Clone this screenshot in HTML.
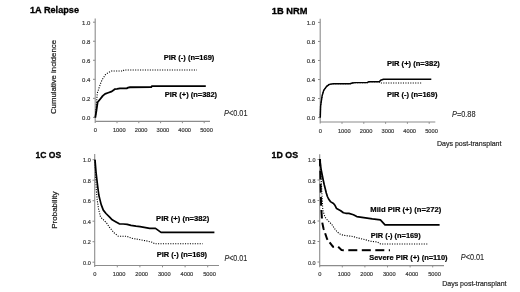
<!DOCTYPE html>
<html><head><meta charset="utf-8"><style>
html,body{margin:0;padding:0;background:#fff;}
body{width:520px;height:292px;overflow:hidden;}
svg{display:block;font-family:"Liberation Sans", sans-serif;filter:blur(0.3px);}
</style></head><body>
<svg width="520" height="292" viewBox="0 0 520 292" font-family='"Liberation Sans", sans-serif'>
<rect width="520" height="292" fill="#fff"/>
<text x="30" y="13.1" font-size="9.8" font-weight="bold" textLength="49" lengthAdjust="spacingAndGlyphs" fill="#000" stroke="#000" stroke-width="0.32" >1A Relapse</text>
<text x="271.8" y="13.7" font-size="9.8" font-weight="bold" textLength="35.6" lengthAdjust="spacingAndGlyphs" fill="#000" stroke="#000" stroke-width="0.32" >1B NRM</text>
<text x="35.6" y="157.8" font-size="9.5" font-weight="bold" textLength="25.6" lengthAdjust="spacingAndGlyphs" fill="#000" stroke="#000" stroke-width="0.32" >1C OS</text>
<text x="271.6" y="157.8" font-size="9.5" font-weight="bold" textLength="26.5" lengthAdjust="spacingAndGlyphs" fill="#000" stroke="#000" stroke-width="0.32" >1D OS</text>
<line x1="95.2" y1="18.6" x2="95.2" y2="123.0" stroke="#8c8c8c" stroke-width="1.1"/>
<line x1="95.2" y1="121.4" x2="210" y2="121.4" stroke="#8c8c8c" stroke-width="1.1"/>
<line x1="93.0" y1="22.20" x2="95.2" y2="22.20" stroke="#8c8c8c" stroke-width="1"/>
<text x="90.4" y="24.50" font-size="6.2" textLength="8.3" lengthAdjust="spacingAndGlyphs" text-anchor="end" fill="#3a3a3a" stroke="#3a3a3a" stroke-width="0.2" >1.0</text>
<line x1="93.0" y1="41.24" x2="95.2" y2="41.24" stroke="#8c8c8c" stroke-width="1"/>
<text x="90.4" y="43.54" font-size="6.2" textLength="8.3" lengthAdjust="spacingAndGlyphs" text-anchor="end" fill="#3a3a3a" stroke="#3a3a3a" stroke-width="0.2" >0.8</text>
<line x1="93.0" y1="60.28" x2="95.2" y2="60.28" stroke="#8c8c8c" stroke-width="1"/>
<text x="90.4" y="62.58" font-size="6.2" textLength="8.3" lengthAdjust="spacingAndGlyphs" text-anchor="end" fill="#3a3a3a" stroke="#3a3a3a" stroke-width="0.2" >0.6</text>
<line x1="93.0" y1="79.32" x2="95.2" y2="79.32" stroke="#8c8c8c" stroke-width="1"/>
<text x="90.4" y="81.62" font-size="6.2" textLength="8.3" lengthAdjust="spacingAndGlyphs" text-anchor="end" fill="#3a3a3a" stroke="#3a3a3a" stroke-width="0.2" >0.4</text>
<line x1="93.0" y1="98.36" x2="95.2" y2="98.36" stroke="#8c8c8c" stroke-width="1"/>
<text x="90.4" y="100.66" font-size="6.2" textLength="8.3" lengthAdjust="spacingAndGlyphs" text-anchor="end" fill="#3a3a3a" stroke="#3a3a3a" stroke-width="0.2" >0.2</text>
<line x1="93.0" y1="117.40" x2="95.2" y2="117.40" stroke="#8c8c8c" stroke-width="1"/>
<text x="90.4" y="119.70" font-size="6.2" textLength="8.3" lengthAdjust="spacingAndGlyphs" text-anchor="end" fill="#3a3a3a" stroke="#3a3a3a" stroke-width="0.2" >0.0</text>
<text x="95.40" y="131.8" font-size="6.2" textLength="3.2" lengthAdjust="spacingAndGlyphs" text-anchor="middle" fill="#3a3a3a" stroke="#3a3a3a" stroke-width="0.2" >0</text>
<line x1="117.00" y1="121.4" x2="117.00" y2="123.2" stroke="#8c8c8c" stroke-width="1"/>
<text x="119.30" y="131.8" font-size="6.2" textLength="12.7" lengthAdjust="spacingAndGlyphs" text-anchor="middle" fill="#3a3a3a" stroke="#3a3a3a" stroke-width="0.2" >1000</text>
<line x1="138.80" y1="121.4" x2="138.80" y2="123.2" stroke="#8c8c8c" stroke-width="1"/>
<text x="141.10" y="131.8" font-size="6.2" textLength="12.7" lengthAdjust="spacingAndGlyphs" text-anchor="middle" fill="#3a3a3a" stroke="#3a3a3a" stroke-width="0.2" >2000</text>
<line x1="160.60" y1="121.4" x2="160.60" y2="123.2" stroke="#8c8c8c" stroke-width="1"/>
<text x="162.90" y="131.8" font-size="6.2" textLength="12.7" lengthAdjust="spacingAndGlyphs" text-anchor="middle" fill="#3a3a3a" stroke="#3a3a3a" stroke-width="0.2" >3000</text>
<line x1="182.40" y1="121.4" x2="182.40" y2="123.2" stroke="#8c8c8c" stroke-width="1"/>
<text x="184.70" y="131.8" font-size="6.2" textLength="12.7" lengthAdjust="spacingAndGlyphs" text-anchor="middle" fill="#3a3a3a" stroke="#3a3a3a" stroke-width="0.2" >4000</text>
<line x1="204.20" y1="121.4" x2="204.20" y2="123.2" stroke="#8c8c8c" stroke-width="1"/>
<text x="206.50" y="131.8" font-size="6.2" textLength="12.7" lengthAdjust="spacingAndGlyphs" text-anchor="middle" fill="#3a3a3a" stroke="#3a3a3a" stroke-width="0.2" >5000</text>
<line x1="320.2" y1="18.8" x2="320.2" y2="123.6" stroke="#8c8c8c" stroke-width="1.1"/>
<line x1="320.2" y1="122.0" x2="435.3" y2="122.0" stroke="#8c8c8c" stroke-width="1.1"/>
<line x1="318.0" y1="22.40" x2="320.2" y2="22.40" stroke="#8c8c8c" stroke-width="1"/>
<text x="315.0" y="24.70" font-size="6.2" textLength="8.3" lengthAdjust="spacingAndGlyphs" text-anchor="end" fill="#3a3a3a" stroke="#3a3a3a" stroke-width="0.2" >1.0</text>
<line x1="318.0" y1="41.44" x2="320.2" y2="41.44" stroke="#8c8c8c" stroke-width="1"/>
<text x="315.0" y="43.74" font-size="6.2" textLength="8.3" lengthAdjust="spacingAndGlyphs" text-anchor="end" fill="#3a3a3a" stroke="#3a3a3a" stroke-width="0.2" >0.8</text>
<line x1="318.0" y1="60.48" x2="320.2" y2="60.48" stroke="#8c8c8c" stroke-width="1"/>
<text x="315.0" y="62.78" font-size="6.2" textLength="8.3" lengthAdjust="spacingAndGlyphs" text-anchor="end" fill="#3a3a3a" stroke="#3a3a3a" stroke-width="0.2" >0.6</text>
<line x1="318.0" y1="79.52" x2="320.2" y2="79.52" stroke="#8c8c8c" stroke-width="1"/>
<text x="315.0" y="81.82" font-size="6.2" textLength="8.3" lengthAdjust="spacingAndGlyphs" text-anchor="end" fill="#3a3a3a" stroke="#3a3a3a" stroke-width="0.2" >0.4</text>
<line x1="318.0" y1="98.56" x2="320.2" y2="98.56" stroke="#8c8c8c" stroke-width="1"/>
<text x="315.0" y="100.86" font-size="6.2" textLength="8.3" lengthAdjust="spacingAndGlyphs" text-anchor="end" fill="#3a3a3a" stroke="#3a3a3a" stroke-width="0.2" >0.2</text>
<line x1="318.0" y1="117.60" x2="320.2" y2="117.60" stroke="#8c8c8c" stroke-width="1"/>
<text x="315.0" y="119.90" font-size="6.2" textLength="8.3" lengthAdjust="spacingAndGlyphs" text-anchor="end" fill="#3a3a3a" stroke="#3a3a3a" stroke-width="0.2" >0.0</text>
<text x="320.40" y="132.9" font-size="6.2" textLength="3.2" lengthAdjust="spacingAndGlyphs" text-anchor="middle" fill="#3a3a3a" stroke="#3a3a3a" stroke-width="0.2" >0</text>
<line x1="342.00" y1="122.0" x2="342.00" y2="123.8" stroke="#8c8c8c" stroke-width="1"/>
<text x="344.30" y="132.9" font-size="6.2" textLength="12.7" lengthAdjust="spacingAndGlyphs" text-anchor="middle" fill="#3a3a3a" stroke="#3a3a3a" stroke-width="0.2" >1000</text>
<line x1="363.80" y1="122.0" x2="363.80" y2="123.8" stroke="#8c8c8c" stroke-width="1"/>
<text x="366.10" y="132.9" font-size="6.2" textLength="12.7" lengthAdjust="spacingAndGlyphs" text-anchor="middle" fill="#3a3a3a" stroke="#3a3a3a" stroke-width="0.2" >2000</text>
<line x1="385.60" y1="122.0" x2="385.60" y2="123.8" stroke="#8c8c8c" stroke-width="1"/>
<text x="387.90" y="132.9" font-size="6.2" textLength="12.7" lengthAdjust="spacingAndGlyphs" text-anchor="middle" fill="#3a3a3a" stroke="#3a3a3a" stroke-width="0.2" >3000</text>
<line x1="407.40" y1="122.0" x2="407.40" y2="123.8" stroke="#8c8c8c" stroke-width="1"/>
<text x="409.70" y="132.9" font-size="6.2" textLength="12.7" lengthAdjust="spacingAndGlyphs" text-anchor="middle" fill="#3a3a3a" stroke="#3a3a3a" stroke-width="0.2" >4000</text>
<line x1="429.20" y1="122.0" x2="429.20" y2="123.8" stroke="#8c8c8c" stroke-width="1"/>
<text x="431.50" y="132.9" font-size="6.2" textLength="12.7" lengthAdjust="spacingAndGlyphs" text-anchor="middle" fill="#3a3a3a" stroke="#3a3a3a" stroke-width="0.2" >5000</text>
<line x1="94.7" y1="154.1" x2="94.7" y2="267.1" stroke="#8c8c8c" stroke-width="1.1"/>
<line x1="94.7" y1="265.5" x2="219" y2="265.5" stroke="#8c8c8c" stroke-width="1.1"/>
<line x1="92.5" y1="159.70" x2="94.7" y2="159.70" stroke="#8c8c8c" stroke-width="1"/>
<text x="90.8" y="162.10" font-size="6.2" textLength="7.7" lengthAdjust="spacingAndGlyphs" text-anchor="end" fill="#3a3a3a" stroke="#3a3a3a" stroke-width="0.2" >1.0</text>
<line x1="92.5" y1="180.20" x2="94.7" y2="180.20" stroke="#8c8c8c" stroke-width="1"/>
<text x="90.8" y="182.60" font-size="6.2" textLength="7.7" lengthAdjust="spacingAndGlyphs" text-anchor="end" fill="#3a3a3a" stroke="#3a3a3a" stroke-width="0.2" >0.8</text>
<line x1="92.5" y1="200.70" x2="94.7" y2="200.70" stroke="#8c8c8c" stroke-width="1"/>
<text x="90.8" y="203.10" font-size="6.2" textLength="7.7" lengthAdjust="spacingAndGlyphs" text-anchor="end" fill="#3a3a3a" stroke="#3a3a3a" stroke-width="0.2" >0.6</text>
<line x1="92.5" y1="221.20" x2="94.7" y2="221.20" stroke="#8c8c8c" stroke-width="1"/>
<text x="90.8" y="223.60" font-size="6.2" textLength="7.7" lengthAdjust="spacingAndGlyphs" text-anchor="end" fill="#3a3a3a" stroke="#3a3a3a" stroke-width="0.2" >0.4</text>
<line x1="92.5" y1="241.70" x2="94.7" y2="241.70" stroke="#8c8c8c" stroke-width="1"/>
<text x="90.8" y="244.10" font-size="6.2" textLength="7.7" lengthAdjust="spacingAndGlyphs" text-anchor="end" fill="#3a3a3a" stroke="#3a3a3a" stroke-width="0.2" >0.2</text>
<line x1="92.5" y1="262.20" x2="94.7" y2="262.20" stroke="#8c8c8c" stroke-width="1"/>
<text x="90.8" y="264.60" font-size="6.2" textLength="7.7" lengthAdjust="spacingAndGlyphs" text-anchor="end" fill="#3a3a3a" stroke="#3a3a3a" stroke-width="0.2" >0.0</text>
<text x="94.90" y="276.2" font-size="6.2" textLength="3.2" lengthAdjust="spacingAndGlyphs" text-anchor="middle" fill="#3a3a3a" stroke="#3a3a3a" stroke-width="0.2" >0</text>
<line x1="117.30" y1="265.5" x2="117.30" y2="267.3" stroke="#8c8c8c" stroke-width="1"/>
<text x="119.10" y="276.2" font-size="6.2" textLength="12.7" lengthAdjust="spacingAndGlyphs" text-anchor="middle" fill="#3a3a3a" stroke="#3a3a3a" stroke-width="0.2" >1000</text>
<line x1="139.90" y1="265.5" x2="139.90" y2="267.3" stroke="#8c8c8c" stroke-width="1"/>
<text x="141.70" y="276.2" font-size="6.2" textLength="12.7" lengthAdjust="spacingAndGlyphs" text-anchor="middle" fill="#3a3a3a" stroke="#3a3a3a" stroke-width="0.2" >2000</text>
<line x1="162.50" y1="265.5" x2="162.50" y2="267.3" stroke="#8c8c8c" stroke-width="1"/>
<text x="164.30" y="276.2" font-size="6.2" textLength="12.7" lengthAdjust="spacingAndGlyphs" text-anchor="middle" fill="#3a3a3a" stroke="#3a3a3a" stroke-width="0.2" >3000</text>
<line x1="185.10" y1="265.5" x2="185.10" y2="267.3" stroke="#8c8c8c" stroke-width="1"/>
<text x="186.90" y="276.2" font-size="6.2" textLength="12.7" lengthAdjust="spacingAndGlyphs" text-anchor="middle" fill="#3a3a3a" stroke="#3a3a3a" stroke-width="0.2" >4000</text>
<line x1="207.70" y1="265.5" x2="207.70" y2="267.3" stroke="#8c8c8c" stroke-width="1"/>
<text x="209.50" y="276.2" font-size="6.2" textLength="12.7" lengthAdjust="spacingAndGlyphs" text-anchor="middle" fill="#3a3a3a" stroke="#3a3a3a" stroke-width="0.2" >5000</text>
<line x1="319.7" y1="154.2" x2="319.7" y2="267.20000000000005" stroke="#8c8c8c" stroke-width="1.1"/>
<line x1="319.7" y1="265.6" x2="444" y2="265.6" stroke="#8c8c8c" stroke-width="1.1"/>
<line x1="317.5" y1="159.50" x2="319.7" y2="159.50" stroke="#8c8c8c" stroke-width="1"/>
<text x="315.5" y="162.00" font-size="6.2" textLength="7.6" lengthAdjust="spacingAndGlyphs" text-anchor="end" fill="#3a3a3a" stroke="#3a3a3a" stroke-width="0.2" >1.0</text>
<line x1="317.5" y1="180.00" x2="319.7" y2="180.00" stroke="#8c8c8c" stroke-width="1"/>
<text x="315.5" y="182.50" font-size="6.2" textLength="7.6" lengthAdjust="spacingAndGlyphs" text-anchor="end" fill="#3a3a3a" stroke="#3a3a3a" stroke-width="0.2" >0.8</text>
<line x1="317.5" y1="200.50" x2="319.7" y2="200.50" stroke="#8c8c8c" stroke-width="1"/>
<text x="315.5" y="203.00" font-size="6.2" textLength="7.6" lengthAdjust="spacingAndGlyphs" text-anchor="end" fill="#3a3a3a" stroke="#3a3a3a" stroke-width="0.2" >0.6</text>
<line x1="317.5" y1="221.00" x2="319.7" y2="221.00" stroke="#8c8c8c" stroke-width="1"/>
<text x="315.5" y="223.50" font-size="6.2" textLength="7.6" lengthAdjust="spacingAndGlyphs" text-anchor="end" fill="#3a3a3a" stroke="#3a3a3a" stroke-width="0.2" >0.4</text>
<line x1="317.5" y1="241.50" x2="319.7" y2="241.50" stroke="#8c8c8c" stroke-width="1"/>
<text x="315.5" y="244.00" font-size="6.2" textLength="7.6" lengthAdjust="spacingAndGlyphs" text-anchor="end" fill="#3a3a3a" stroke="#3a3a3a" stroke-width="0.2" >0.2</text>
<line x1="317.5" y1="262.00" x2="319.7" y2="262.00" stroke="#8c8c8c" stroke-width="1"/>
<text x="315.5" y="264.50" font-size="6.2" textLength="7.6" lengthAdjust="spacingAndGlyphs" text-anchor="end" fill="#3a3a3a" stroke="#3a3a3a" stroke-width="0.2" >0.0</text>
<text x="319.90" y="276.4" font-size="6.2" textLength="3.2" lengthAdjust="spacingAndGlyphs" text-anchor="middle" fill="#3a3a3a" stroke="#3a3a3a" stroke-width="0.2" >0</text>
<line x1="342.30" y1="265.6" x2="342.30" y2="267.40000000000003" stroke="#8c8c8c" stroke-width="1"/>
<text x="344.10" y="276.4" font-size="6.2" textLength="12.7" lengthAdjust="spacingAndGlyphs" text-anchor="middle" fill="#3a3a3a" stroke="#3a3a3a" stroke-width="0.2" >1000</text>
<line x1="364.90" y1="265.6" x2="364.90" y2="267.40000000000003" stroke="#8c8c8c" stroke-width="1"/>
<text x="366.70" y="276.4" font-size="6.2" textLength="12.7" lengthAdjust="spacingAndGlyphs" text-anchor="middle" fill="#3a3a3a" stroke="#3a3a3a" stroke-width="0.2" >2000</text>
<line x1="387.50" y1="265.6" x2="387.50" y2="267.40000000000003" stroke="#8c8c8c" stroke-width="1"/>
<text x="389.30" y="276.4" font-size="6.2" textLength="12.7" lengthAdjust="spacingAndGlyphs" text-anchor="middle" fill="#3a3a3a" stroke="#3a3a3a" stroke-width="0.2" >3000</text>
<line x1="410.10" y1="265.6" x2="410.10" y2="267.40000000000003" stroke="#8c8c8c" stroke-width="1"/>
<text x="411.90" y="276.4" font-size="6.2" textLength="12.7" lengthAdjust="spacingAndGlyphs" text-anchor="middle" fill="#3a3a3a" stroke="#3a3a3a" stroke-width="0.2" >4000</text>
<line x1="432.70" y1="265.6" x2="432.70" y2="267.40000000000003" stroke="#8c8c8c" stroke-width="1"/>
<text x="434.50" y="276.4" font-size="6.2" textLength="12.7" lengthAdjust="spacingAndGlyphs" text-anchor="middle" fill="#3a3a3a" stroke="#3a3a3a" stroke-width="0.2" >5000</text>
<text x="0" y="0" font-size="7.6" fill="#1e1e1e" stroke="#1e1e1e" stroke-width="0.22" textLength="74" lengthAdjust="spacingAndGlyphs" text-anchor="middle" transform="translate(56.3,77) rotate(-90)">Cumulative incidence</text>
<text x="0" y="0" font-size="7.8" fill="#1e1e1e" stroke="#1e1e1e" stroke-width="0.22" textLength="37.2" lengthAdjust="spacingAndGlyphs" text-anchor="middle" transform="translate(56.6,210.1) rotate(-90)">Probability</text>
<text x="436.9" y="146" font-size="7.9" textLength="64.6" lengthAdjust="spacingAndGlyphs" fill="#262626" stroke="#262626" stroke-width="0.2" >Days post-transplant</text>
<text x="442.2" y="285.6" font-size="7.9" textLength="64.3" lengthAdjust="spacingAndGlyphs" fill="#262626" stroke="#262626" stroke-width="0.2" >Days post-transplant</text>
<text x="224" y="116.4" font-size="8.4" fill="#262626" stroke="#262626" stroke-width="0.12" textLength="23.5" lengthAdjust="spacingAndGlyphs"><tspan font-style="italic">P</tspan>&lt;0.01</text>
<text x="452" y="117.1" font-size="8.4" fill="#262626" stroke="#262626" stroke-width="0.12" textLength="23.5" lengthAdjust="spacingAndGlyphs"><tspan font-style="italic">P</tspan>=0.88</text>
<text x="224.4" y="260.8" font-size="8.4" fill="#262626" stroke="#262626" stroke-width="0.12" textLength="22.8" lengthAdjust="spacingAndGlyphs"><tspan font-style="italic">P</tspan>&lt;0.01</text>
<text x="460.8" y="260.2" font-size="8.4" fill="#262626" stroke="#262626" stroke-width="0.12" textLength="23.3" lengthAdjust="spacingAndGlyphs"><tspan font-style="italic">P</tspan>&lt;0.01</text>
<text x="163.8" y="59.8" font-size="7.6" font-weight="bold" textLength="50.5" lengthAdjust="spacingAndGlyphs" fill="#000" stroke="#000" stroke-width="0.2" >PIR (-) (n=169)</text>
<text x="164.8" y="97.4" font-size="7.6" font-weight="bold" textLength="52.3" lengthAdjust="spacingAndGlyphs" fill="#000" stroke="#000" stroke-width="0.2" >PIR (+) (n=382)</text>
<text x="386.9" y="66.2" font-size="7.6" font-weight="bold" textLength="53.0" lengthAdjust="spacingAndGlyphs" fill="#000" stroke="#000" stroke-width="0.2" >PIR (+) (n=382)</text>
<text x="386.9" y="97.3" font-size="7.6" font-weight="bold" textLength="50.5" lengthAdjust="spacingAndGlyphs" fill="#000" stroke="#000" stroke-width="0.2" >PIR (-) (n=169)</text>
<text x="156.1" y="221.0" font-size="7.6" font-weight="bold" textLength="53.1" lengthAdjust="spacingAndGlyphs" fill="#000" stroke="#000" stroke-width="0.2" >PIR (+) (n=382)</text>
<text x="156.7" y="257.2" font-size="7.6" font-weight="bold" textLength="50.4" lengthAdjust="spacingAndGlyphs" fill="#000" stroke="#000" stroke-width="0.2" >PIR (-) (n=169)</text>
<text x="370.3" y="212.3" font-size="7.8" font-weight="bold" textLength="70.9" lengthAdjust="spacingAndGlyphs" fill="#000" stroke="#000" stroke-width="0.2" >Mild PIR (+) (n=272)</text>
<text x="370.8" y="237.6" font-size="7.6" font-weight="bold" textLength="49.9" lengthAdjust="spacingAndGlyphs" fill="#000" stroke="#000" stroke-width="0.2" >PIR (-) (n=169)</text>
<text x="369.2" y="260.2" font-size="7.6" font-weight="bold" textLength="78.4" lengthAdjust="spacingAndGlyphs" fill="#000" stroke="#000" stroke-width="0.2" >Severe PIR (+) (n=110)</text>
<polyline points="95.4,117.4 96,110 97.1,95 97.6,92 98.1,90.8 100.3,84.1 102,80 105.3,74.8 108,72.7 111.5,71.0 123.3,71.0 123.9,70.0 197,70.0" fill="none" stroke="#000" stroke-width="1.1" stroke-linejoin="round" stroke-dasharray="1.1 1.35" />
<polyline points="95.3,117.7 96.5,110 97.6,102.3 100.3,98.95 102.7,95.85 105.1,93.85 108.2,92.75 111.3,91.65 113.4,90.35 114.7,89.05 117.1,88.85 119.9,88.35 126.7,88.35 128.1,87.65 130,87.25 151.3,87.15 151.8,86.05 205.8,86.05" fill="none" stroke="#000" stroke-width="1.8" stroke-linejoin="round" />
<polyline points="320.3,117.4 320.6,106 322.1,96 323.7,90.4 326.7,86.3 329.3,84.4 333.4,83.7 350,83.8 352.3,83.0 355.2,82.6 367.3,82.6 368.5,81.8 379.4,81.8 380.5,83.0 421.7,83.0" fill="none" stroke="#000" stroke-width="1.1" stroke-linejoin="round" stroke-dasharray="1.1 1.35" />
<polyline points="320.3,117.4 320.6,106 322.1,96 323.7,90.4 326.7,86.3 329.3,84.4 333.4,83.7 350,83.8 352.3,83.0 355.2,82.6 367.3,82.6 368.5,81.8 379.4,81.8 380.6,80.3 383.5,79.2 431.3,79.2" fill="none" stroke="#000" stroke-width="1.45" stroke-linejoin="round" />
<polyline points="95,159.7 95.6,175 96.3,190 97.1,199.1 98.5,208.7 100.5,216.9 103.3,219.7 106.7,223.1 109.4,227.2 112.2,230.6 114.1,232.8 115.6,234 118.2,236.2 126.4,236.2 131.9,238.3 140.1,239.7 147,241 152.5,242.4 154.8,243.8 202.7,243.8" fill="none" stroke="#000" stroke-width="1.1" stroke-linejoin="round" stroke-dasharray="1.1 1.35" />
<polyline points="95,159.7 96,172 97.5,185 98.8,195 99.8,199.1 101.2,204.6 103.3,210.1 106,213.5 109.4,216.9 112.2,219.8 115.6,221.7 119.3,223.8 123.1,224 127.2,224.4 131,225.4 136,226.2 140.1,226.6 149.7,228.3 155.5,228.4 161,232.4 214.4,232.4" fill="none" stroke="#000" stroke-width="1.7" stroke-linejoin="round" />
<polyline points="320,159 320.18,166.22" fill="none" stroke="#000" stroke-width="2.0" stroke-linejoin="round" stroke-linecap="butt"/>
<polyline points="320.29,170.61 320.4,175.0 320.49,179.41" fill="none" stroke="#000" stroke-width="2.0" stroke-linejoin="round" stroke-linecap="butt"/>
<polyline points="320.58,183.82 320.6,185.0 320.79,192.61" fill="none" stroke="#000" stroke-width="2.0" stroke-linejoin="round" stroke-linecap="butt"/>
<polyline points="320.9,197.0 321.1,205.0 321.14,205.76" fill="none" stroke="#000" stroke-width="2.0" stroke-linejoin="round" stroke-linecap="butt"/>
<polyline points="321.39,210.01 321.5,212.0 321.94,218.46" fill="none" stroke="#000" stroke-width="2.0" stroke-linejoin="round" stroke-linecap="butt"/>
<polyline points="322.27,222.63 323.5,228.5 323.98,229.92" fill="none" stroke="#000" stroke-width="2.0" stroke-linejoin="round" stroke-linecap="butt"/>
<polyline points="325.13,233.27 327.0,238.8 327.68,239.72" fill="none" stroke="#000" stroke-width="2.0" stroke-linejoin="round" stroke-linecap="butt"/>
<polyline points="329.61,242.29 333.1,246.8 334.06,246.76" fill="none" stroke="#000" stroke-width="2.0" stroke-linejoin="round" stroke-linecap="butt"/>
<polyline points="338.16,246.84 341.5,249.9 343.7,250.2 343.8,250.2" fill="none" stroke="#000" stroke-width="2.0" stroke-linejoin="round" stroke-linecap="butt"/>
<polyline points="348.3,250.2 357.3,250.2" fill="none" stroke="#000" stroke-width="2.0" stroke-linejoin="round" stroke-linecap="butt"/>
<polyline points="361.8,250.2 370.8,250.2" fill="none" stroke="#000" stroke-width="2.0" stroke-linejoin="round" stroke-linecap="butt"/>
<polyline points="375.3,250.2 384.3,250.2" fill="none" stroke="#000" stroke-width="2.0" stroke-linejoin="round" stroke-linecap="butt"/>
<polyline points="388.8,250.2 390.0,250.2" fill="none" stroke="#000" stroke-width="2.0" stroke-linejoin="round" stroke-linecap="butt"/>
<polyline points="320,159 320.7,170 321.5,185 322.2,200 322.8,210 324.9,216.8 326.3,218.9 329,221.6 331.8,224.4 334.5,228.5 337.2,231.9 340,234 343.4,235.3 348.9,236 353,236.5 356.8,237.7 367.1,240.2 370,241.2 377.4,242 380.6,244 427.3,244" fill="none" stroke="#000" stroke-width="1.1" stroke-linejoin="round" stroke-dasharray="1.1 1.35" />
<polyline points="319.8,159 320.5,165 321.2,170 322.2,175 323.2,180 324.3,185 325.3,189 326.3,193 327.4,196.5 328.6,199 330.4,201.6 333.5,203.5 335.1,205.6 336.6,208.6 340.7,210.7 343.4,212.7 345.8,213.3 348.9,213.4 353.4,214.8 356.8,216.6 363.7,217.6 372.3,218.9 380.4,219.9 385,224.8 439.6,224.8" fill="none" stroke="#000" stroke-width="1.7" stroke-linejoin="round" />
</svg>
</body></html>
